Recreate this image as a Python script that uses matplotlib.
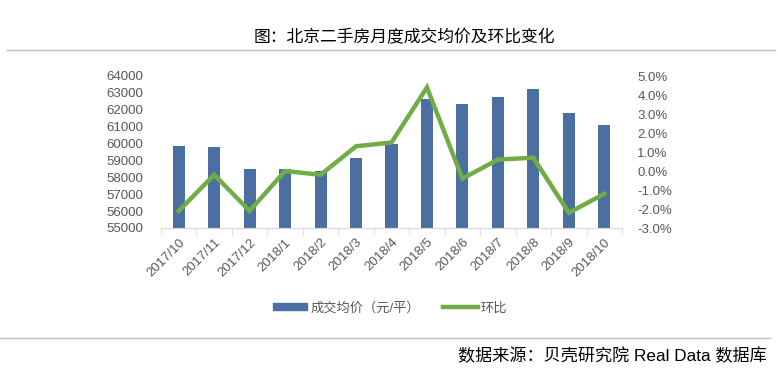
import matplotlib
matplotlib.use('Agg')
import matplotlib.pyplot as plt
from matplotlib.lines import Line2D
from matplotlib.patches import Patch
import numpy as np

plt.rcParams['font.family'] = ['Liberation Sans', 'Noto Sans CJK SC', 'DejaVu Sans']

months = ['2017/10', '2017/11', '2017/12', '2018/1', '2018/2', '2018/3', '2018/4',
          '2018/5', '2018/6', '2018/7', '2018/8', '2018/9', '2018/10']
price = [59850, 59790, 58500, 58500, 58370, 59140, 59970,
         62630, 62340, 62750, 63220, 61800, 61090]
mom = [-2.1, -0.2, -2.1, 0.0, -0.2, 1.3, 1.5,
       4.4, -0.4, 0.6, 0.7, -2.2, -1.2]

bar_color = '#4A6FA0'
line_color = '#70AD47'
tick_color = '#595959'

fig = plt.figure(figsize=(7.78, 3.74), dpi=100)
ax = fig.add_axes([161 / 778, 1 - 228 / 374, 461 / 778, 152 / 374])
ax2 = ax.twinx()

x = np.arange(len(months))
ax.bar(x, price, width=0.34, color=bar_color, zorder=2)
ax.set_ylim(55000, 64000)
ax.set_yticks(np.arange(55000, 64001, 1000))
ax.set_xlim(-0.5, len(months) - 0.5)

ax2.plot(x, mom, color=line_color, lw=3.2, solid_joinstyle='miter', zorder=3)
ax2.set_ylim(-3, 5)
ax2.set_yticks(np.arange(-3, 5.01, 1))
ax2.set_yticklabels([f'{v:.1f}%' for v in np.arange(-3, 5.01, 1)])

for a in (ax, ax2):
    for s in ('top', 'left', 'right'):
        a.spines[s].set_visible(False)
    a.spines['bottom'].set_color('#D9D9D9')
    a.tick_params(axis='y', length=0, labelsize=9.5, labelcolor=tick_color)

ax.tick_params(axis='y', pad=13)
ax2.tick_params(axis='y', pad=11)

# category labels at centers, tick marks at boundaries
ax.set_xticks(x)
ax.set_xticklabels(months, rotation=45, ha='right', rotation_mode='anchor',
                   fontsize=9.5, color=tick_color)
ax.tick_params(axis='x', which='major', length=0, pad=6)
ax.set_xticks(np.arange(-0.5, len(months)), minor=True)
ax.tick_params(axis='x', which='minor', length=5, color='#D9D9D9')

fig.text(404 / 778, 1 - 37.5 / 374, '图：北京二手房月度成交均价及环比变化',
         ha='center', va='center', fontsize=12.1, family=['Noto Sans CJK SC'])
fig.add_artist(Line2D([7 / 778, 775 / 778], [1 - 50 / 374] * 2,
                      color='#BFBFBF', lw=1))
fig.add_artist(Line2D([0, 770 / 778], [1 - 338 / 374] * 2,
                      color='#BFBFBF', lw=1))
fig.text(767 / 778, 1 - 356 / 374, '数据来源：贝壳研究院 Real Data 数据库',
         ha='right', va='center', fontsize=12.3)

handles = [Patch(color=bar_color), Line2D([], [], color=line_color, lw=3.2)]
fig.legend(handles, ['成交均价（元/平）', '环比'], loc='center',
           bbox_to_anchor=(390 / 778, 1 - 308 / 374), ncol=2, frameon=False,
           fontsize=9.5, labelcolor=tick_color, handlelength=2.6,
           handleheight=0.5, handletextpad=0.2, columnspacing=1.8)

fig.savefig('out.png', dpi=100)
